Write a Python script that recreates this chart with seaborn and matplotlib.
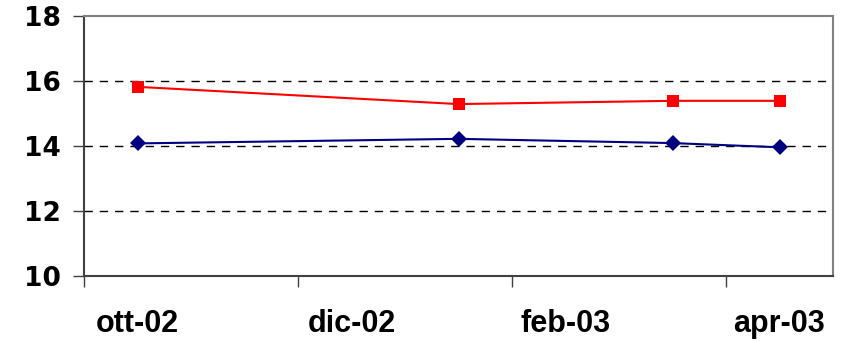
import pandas as pd
import numpy as np
import matplotlib
matplotlib.use('Agg')
import matplotlib.pyplot as plt
import seaborn as sns

# data
dates = ['2002-10', '2003-01', '2003-03', '2003-04']
red_values = [15.82, 15.29, 15.39, 15.39]
blue_values = [14.08, 14.22, 14.09, 13.96]
tick_labels = ['ott-02', 'dic-02', 'feb-03', 'apr-03']

start = pd.Period('2002-10', freq='M')
month_idx = [(pd.Period(d, freq='M') - start).n for d in dates]

df = pd.DataFrame({'month': month_idx * 2,
                   'value': red_values + blue_values,
                   'series': ['red'] * 4 + ['blue'] * 4})

sns.set_style('white')
plt.rcParams['font.family'] = ['Liberation Sans', 'DejaVu Sans']
plt.rcParams['text.color'] = 'black'
plt.rcParams['xtick.color'] = 'black'
plt.rcParams['ytick.color'] = 'black'

fig = plt.figure(figsize=(8.5, 3.41), dpi=100)
ax = fig.add_axes([84 / 850, 1 - 276 / 341, (833 - 84) / 850, (276 - 16) / 341])

sns.lineplot(data=df[df.series == 'red'], x='month', y='value', color='#FF0000',
             marker='s', markersize=9, markeredgewidth=0, linewidth=1.5, ax=ax)
sns.lineplot(data=df[df.series == 'blue'], x='month', y='value', color='#000080',
             marker='D', markersize=8.5, markeredgewidth=0, linewidth=1.5, ax=ax)

ax.set_xlim(-0.5, 6.5)
ax.set_ylim(10, 18)
ax.set_yticks([10, 12, 14, 16, 18])
ax.set_yticklabels(['10', '12', '14', '16', '18'], fontsize=19, fontweight='bold',
                   family=['DejaVu Sans'])

# tick marks on month boundaries, labels centred in month slots
ax.set_xticks([-0.5, 1.5, 3.5, 5.5])
ax.set_xticklabels([])
ax.set_xticks([0, 2, 4, 6], minor=True)
ax.set_xticklabels(tick_labels, minor=True, fontsize=22, fontweight='bold')
ax.tick_params(axis='x', which='minor', bottom=True, length=0, pad=24, colors='black')
ax.tick_params(axis='x', which='major', bottom=True, length=8, width=1,
               color='#404040', direction='out')
ax.tick_params(axis='y', left=True, length=8, width=1, color='#404040',
               labelcolor='black', direction='out', pad=9)

for y in [12, 14, 16]:
    ax.axhline(y, color='black', linewidth=1, linestyle=(0, (6, 5)), zorder=0)

for side in ['top', 'right']:
    ax.spines[side].set_color('#808080')
    ax.spines[side].set_linewidth(1.5)
for side in ['left', 'bottom']:
    ax.spines[side].set_color('#404040')
    ax.spines[side].set_linewidth(1.5)

ax.set_xlabel('')
ax.set_ylabel('')
ax.legend_ = None

fig.savefig('out.png', dpi=100)
